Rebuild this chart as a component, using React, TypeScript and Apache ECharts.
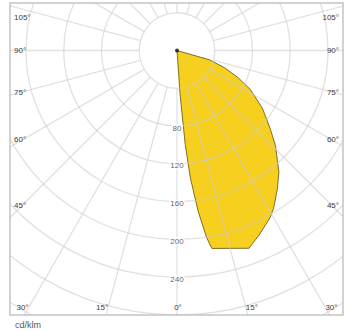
import React, { useEffect, useRef } from "react";
import * as echarts from "echarts";

// Luminous intensity distribution (gamma angle from nadir, degrees; intensity cd/klm)
const GAMMA = [0, 4, 5, 6, 7.5, 9, 10, 20, 24, 29, 31.5, 36, 40, 46, 50, 56, 62, 66, 70, 74, 90];
const INTENSITY = [0, 47, 100, 136, 172, 201, 213, 223, 214, 203, 196, 181, 168, 145, 129, 109, 88, 71, 54, 36, 0];

// Radial tick labels shown along the 0° spoke
const RADIUS_LABELS = [80, 120, 160, 200, 240];
// Angle labels on the frame
const SIDE_ANGLES = [45, 60, 75, 90, 105];
const BOTTOM_ANGLES = [0, 15, 30];
const UNIT = "cd/klm";

const W = 355;
const H = 331;
const CX = 177;
const CY = 50.5;
const PX_PER_UNIT = 0.94375;
const R_MIN = 40;
const R_MAX = 360;
const BOX = { x: 10, y: 3, w: 333, h: 312 };
const GRID_COLOR = "rgba(205,205,205,0.6)";
const TEXT_FONT = "Liberation Sans";

function buildOption() {
  const graphics: any[] = [];
  // white masks outside the frame
  graphics.push(
    { type: "rect", z: 100, shape: { x: 0, y: 0, width: BOX.x, height: H }, style: { fill: "#fff" } },
    { type: "rect", z: 100, shape: { x: BOX.x + BOX.w, y: 0, width: W, height: H }, style: { fill: "#fff" } },
    { type: "rect", z: 100, shape: { x: 0, y: 0, width: W, height: BOX.y }, style: { fill: "#fff" } },
    { type: "rect", z: 100, shape: { x: 0, y: BOX.y + BOX.h, width: W, height: H }, style: { fill: "#fff" } },
    {
      type: "rect",
      z: 101,
      shape: { x: BOX.x, y: BOX.y, width: BOX.w, height: BOX.h },
      style: { fill: "none", stroke: "#c4c4c4", lineWidth: 1.5 },
    }
  );
  const textStyle = (t: string, x: number, y: number, align: string) => ({
    type: "text",
    z: 102,
    x,
    y,
    style: {
      text: t,
      fill: "#3a3a3a",
      font: `8px "${TEXT_FONT}"`,
      textAlign: align,
      textVerticalAlign: "middle",
    },
  });
  const sideDx = CX - 22;
  SIDE_ANGLES.forEach((g) => {
    const rad = (g * Math.PI) / 180;
    let y = CY + sideDx / Math.tan(rad);
    y = Math.max(17, y);
    graphics.push(textStyle(`${g}°`, 14, y, "left"));
    graphics.push(textStyle(`${g}°`, 339, y, "right"));
  });
  const by = 307.5;
  BOTTOM_ANGLES.forEach((g) => {
    const dx = (by - CY) * Math.tan((g * Math.PI) / 180);
    if (g === 0) {
      graphics.push(textStyle(`${g}°`, CX + 1, by, "center"));
    } else {
      graphics.push(textStyle(`${g}°`, CX - dx, by, "right"));
      graphics.push(textStyle(`${g}°`, CX + dx, by, "left"));
    }
  });
  graphics.push({
    type: "text",
    z: 102,
    x: 15,
    y: 325,
    style: {
      text: UNIT,
      fill: "#555",
      font: `9px "${TEXT_FONT}"`,
      textAlign: "left",
      textVerticalAlign: "middle",
    },
  });

  const hiddenAxis = {
    axisLine: { show: false },
    axisTick: { show: false },
    axisLabel: { show: false },
    splitLine: { show: false },
  };

  return {
    animation: false,
    polar: [
      // grid polar (spokes start at the 40 ring)
      { center: [CX, CY], radius: [R_MIN * PX_PER_UNIT, R_MAX * PX_PER_UNIT] },
      // data polar (full radius from 0)
      { center: [CX, CY], radius: [0, R_MAX * PX_PER_UNIT] },
    ],
    angleAxis: [
      {
        polarIndex: 0,
        type: "value",
        min: 0,
        max: 360,
        interval: 15,
        startAngle: 270,
        clockwise: false,
        z: 5,
        axisLine: { show: false },
        axisTick: { show: false },
        axisLabel: { show: false },
        splitLine: { show: true, lineStyle: { color: GRID_COLOR, width: 1.3 } },
      },
      {
        polarIndex: 1,
        type: "value",
        min: 0,
        max: 360,
        interval: 15,
        startAngle: 270,
        clockwise: false,
        ...hiddenAxis,
      },
    ],
    radiusAxis: [
      {
        polarIndex: 0,
        type: "value",
        min: R_MIN,
        max: R_MAX,
        interval: 40,
        z: 5,
        axisLine: { show: false },
        axisTick: { show: false },
        axisLabel: { show: false },
        splitLine: { show: true, lineStyle: { color: GRID_COLOR, width: 1.3 } },
      },
      {
        polarIndex: 1,
        type: "value",
        min: 0,
        max: R_MAX,
        interval: 40,
        ...hiddenAxis,
      },
    ],
    series: [
      {
        type: "line",
        coordinateSystem: "polar",
        polarIndex: 1,
        data: GAMMA.map((g, i) => [INTENSITY[i], g]),
        symbol: "none",
        clip: false,
        z: 1,
        lineStyle: { color: "#5e5010", width: 0.8 },
        areaStyle: { color: "#f7cf1f", opacity: 1 },
      },
      {
        type: "scatter",
        coordinateSystem: "polar",
        polarIndex: 1,
        data: [[INTENSITY[0], GAMMA[0]]],
        symbol: "circle",
        symbolSize: 4,
        clip: false,
        z: 10,
        itemStyle: { color: "#111" },
      },
      {
        type: "scatter",
        coordinateSystem: "polar",
        polarIndex: 1,
        data: RADIUS_LABELS.map((v) => [v, 0]),
        symbolSize: 0,
        clip: false,
        z: 10,
        label: {
          show: true,
          position: "inside",
          offset: [0, 2],
          formatter: (p: any) => String(p.value[0]),
          color: "#3a3a3a",
          fontFamily: TEXT_FONT,
          fontSize: 8,
          backgroundColor: "#fff",
          padding: [0, 1],
        },
      },
    ],
    graphic: graphics,
  };
}

export default function App() {
  const ref = useRef<HTMLDivElement>(null);
  useEffect(() => {
    if (!ref.current) return;
    const chart = echarts.init(ref.current, null, { renderer: "svg" });
    chart.setOption(buildOption() as any);
    return () => chart.dispose();
  }, []);
  return (
    <div
      ref={ref}
      style={{ position: "absolute", left: 0, top: 0, width: W, height: H, background: "#fff" }}
    />
  );
}
